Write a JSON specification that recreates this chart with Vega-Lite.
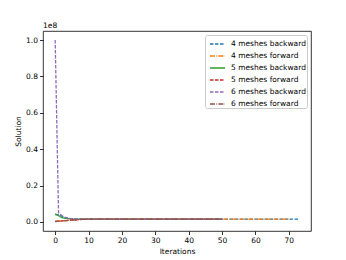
{
  "$schema": "https://vega.github.io/schema/vega-lite/v6.json",
  "autosize": {"type": "none"},
  "padding": {"left": 43, "top": 31, "right": 35, "bottom": 29},
  "width": 268,
  "height": 200,
  "background": "white",
  "title": {"text": "1e8", "anchor": "start", "frame": "group", "fontSize": 7.5, "fontWeight": "normal", "font": "DejaVu Sans", "color": "black", "offset": 2},
  "config": {
    "view": {"stroke": "black", "strokeWidth": 0.8},
    "axis": {"grid": false, "domain": false, "tickColor": "black", "tickWidth": 0.8, "tickSize": 3.5, "labelFont": "DejaVu Sans", "labelFontSize": 7.5, "labelColor": "black", "titleFont": "DejaVu Sans", "titleFontSize": 7.5, "titleFontWeight": "normal", "titleColor": "black", "labelPadding": 2}
  },
  "data": {"values": [
    {"s": "4 meshes backward", "i": 0, "v": 4000000},
    {"s": "4 meshes backward", "i": 1, "v": 3800000},
    {"s": "4 meshes backward", "i": 2, "v": 3200000},
    {"s": "4 meshes backward", "i": 3, "v": 2300000},
    {"s": "4 meshes backward", "i": 4, "v": 1900000},
    {"s": "4 meshes backward", "i": 6, "v": 1600000},
    {"s": "4 meshes backward", "i": 8, "v": 1500000},
    {"s": "4 meshes backward", "i": 20, "v": 1500000},
    {"s": "4 meshes backward", "i": 40, "v": 1500000},
    {"s": "4 meshes backward", "i": 60, "v": 1500000},
    {"s": "4 meshes backward", "i": 73, "v": 1500000},
    {"s": "4 meshes forward", "i": 0, "v": 300000},
    {"s": "4 meshes forward", "i": 2, "v": 600000},
    {"s": "4 meshes forward", "i": 4, "v": 900000},
    {"s": "4 meshes forward", "i": 6, "v": 1200000},
    {"s": "4 meshes forward", "i": 8, "v": 1400000},
    {"s": "4 meshes forward", "i": 10, "v": 1500000},
    {"s": "4 meshes forward", "i": 30, "v": 1500000},
    {"s": "4 meshes forward", "i": 50, "v": 1500000},
    {"s": "4 meshes forward", "i": 70, "v": 1500000},
    {"s": "5 meshes backward", "i": 0, "v": 4500000},
    {"s": "5 meshes backward", "i": 1, "v": 3500000},
    {"s": "5 meshes backward", "i": 2, "v": 2300000},
    {"s": "5 meshes backward", "i": 3, "v": 2000000},
    {"s": "5 meshes backward", "i": 4, "v": 1800000},
    {"s": "5 meshes backward", "i": 5, "v": 1600000},
    {"s": "5 meshes backward", "i": 7, "v": 1500000},
    {"s": "5 meshes backward", "i": 20, "v": 1500000},
    {"s": "5 meshes backward", "i": 50, "v": 1500000},
    {"s": "5 meshes forward", "i": 0, "v": 250000},
    {"s": "5 meshes forward", "i": 2, "v": 550000},
    {"s": "5 meshes forward", "i": 4, "v": 850000},
    {"s": "5 meshes forward", "i": 6, "v": 1150000},
    {"s": "5 meshes forward", "i": 8, "v": 1400000},
    {"s": "5 meshes forward", "i": 10, "v": 1500000},
    {"s": "5 meshes forward", "i": 30, "v": 1500000},
    {"s": "5 meshes forward", "i": 50, "v": 1500000},
    {"s": "6 meshes backward", "i": 0, "v": 100000000},
    {"s": "6 meshes backward", "i": 1, "v": 5000000},
    {"s": "6 meshes backward", "i": 2, "v": 3500000},
    {"s": "6 meshes backward", "i": 3, "v": 2500000},
    {"s": "6 meshes backward", "i": 4, "v": 2000000},
    {"s": "6 meshes backward", "i": 5, "v": 1800000},
    {"s": "6 meshes backward", "i": 6, "v": 1600000},
    {"s": "6 meshes backward", "i": 8, "v": 1500000},
    {"s": "6 meshes backward", "i": 30, "v": 1500000},
    {"s": "6 meshes backward", "i": 50, "v": 1500000},
    {"s": "6 meshes forward", "i": 0, "v": 200000},
    {"s": "6 meshes forward", "i": 2, "v": 500000},
    {"s": "6 meshes forward", "i": 4, "v": 800000},
    {"s": "6 meshes forward", "i": 6, "v": 1100000},
    {"s": "6 meshes forward", "i": 8, "v": 1350000},
    {"s": "6 meshes forward", "i": 10, "v": 1500000},
    {"s": "6 meshes forward", "i": 30, "v": 1500000},
    {"s": "6 meshes forward", "i": 50, "v": 1500000}
  ]},
  "mark": {"type": "line", "strokeWidth": 1.3, "clip": true},
  "encoding": {
    "x": {"field": "i", "type": "quantitative", "title": "Iterations",
      "scale": {"domain": [-3.65, 76.65], "nice": false, "zero": false},
      "axis": {"values": [0, 10, 20, 30, 40, 50, 60, 70], "titlePadding": 3}},
    "y": {"field": "v", "type": "quantitative", "title": "Solution",
      "scale": {"domain": [-5000000, 105000000], "nice": false, "zero": false},
      "axis": {"values": [0, 20000000, 40000000, 60000000, 80000000, 100000000], "labelExpr": "format(datum.value/1e8, '.1f')", "titlePadding": 3}},
    "color": {"field": "s", "type": "nominal", "title": null,
      "scale": {"domain": ["4 meshes backward", "4 meshes forward", "5 meshes backward", "5 meshes forward", "6 meshes backward", "6 meshes forward"],
                "range": ["#1f77b4", "#ff7f0e", "#2ca02c", "#d62728", "#9467bd", "#8c564b"]},
      "legend": {"orient": "top-right", "offset": 4, "fillColor": "white", "strokeColor": "#cccccc", "padding": 0.5, "cornerRadius": 2,
        "symbolType": "stroke", "symbolSize": 225, "symbolStrokeWidth": 1.3, "symbolOffset": 3.5, "labelFont": "DejaVu Sans", "labelFontSize": 7.5, "labelColor": "black", "rowPadding": -0.6, "labelOffset": 5,
        "encode": {"symbols": {"update": {"stroke": {"scale": "color", "field": "value"}}}}}},
    "strokeDash": {"field": "s", "type": "nominal", "title": null,
      "scale": {"domain": ["4 meshes backward", "4 meshes forward", "5 meshes backward", "5 meshes forward", "6 meshes backward", "6 meshes forward"],
                "range": [[3.5, 1.5], [5, 1.3, 0.8, 1.3], [1, 0], [3.5, 1.5], [3.5, 1.5], [5, 1.3, 0.8, 1.3]]}}
  }
}
